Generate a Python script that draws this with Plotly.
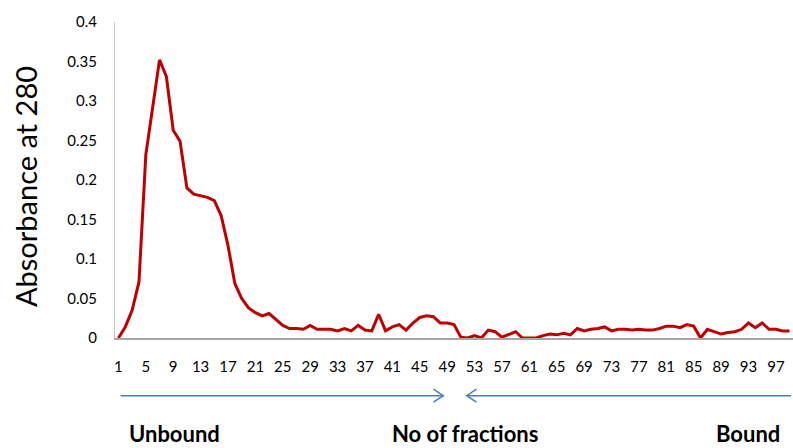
import plotly.graph_objects as go

fractions = list(range(1, 100))
absorbance = [
    0.000, 0.014, 0.035, 0.071, 0.232, 0.295, 0.352, 0.331, 0.263, 0.249,
    0.190, 0.182, 0.180, 0.178, 0.174, 0.155, 0.117, 0.069, 0.050, 0.038,
    0.032, 0.028, 0.031, 0.023, 0.016, 0.012, 0.012, 0.011, 0.016, 0.011,
    0.011, 0.011, 0.009, 0.012, 0.009, 0.016, 0.010, 0.009, 0.030, 0.009,
    0.014, 0.017, 0.010, 0.019, 0.026, 0.028, 0.027, 0.019, 0.019, 0.017,
    0.001, 0.000, 0.003, 0.000, 0.010, 0.008, 0.001, 0.005, 0.008, 0.000,
    0.000, 0.000, 0.003, 0.005, 0.004, 0.006, 0.004, 0.012, 0.009, 0.011,
    0.012, 0.014, 0.009, 0.011, 0.011, 0.010, 0.011, 0.010, 0.010, 0.012,
    0.015, 0.015, 0.013, 0.017, 0.015, 0.000, 0.011, 0.008, 0.005, 0.007,
    0.008, 0.011, 0.019, 0.013, 0.019, 0.011, 0.011, 0.009, 0.009,
]
x_tick_vals = list(range(1, 100, 4))
y_tick_vals = [0, 0.05, 0.1, 0.15, 0.2, 0.25, 0.3, 0.35, 0.4]
y_tick_text = ["0", "0.05", "0.1", "0.15", "0.2", "0.25", "0.3", "0.35", "0.4"]

W, H = 793, 448
L, R, T, B = 115, 0, 22, 110
PW, PH = W - L - R, H - T - B


def px(xp):
    return (xp - L) / PW


def py(yp):
    return (H - B - yp) / PH


FONT = "Lato, 'Open Sans', sans-serif"

fig = go.Figure()
fig.add_trace(go.Scatter(
    x=fractions, y=absorbance, mode="lines",
    line=dict(color="#c00000", width=3), hoverinfo="x+y",
))

arrow_col = "#4a7ebb"
ya = 395.7
shapes = [
    dict(type="line", xref="paper", yref="paper", x0=px(120.7), x1=px(443.3),
         y0=py(ya), y1=py(ya), line=dict(color=arrow_col, width=1.5)),
    dict(type="path", xref="paper", yref="paper",
         path=f"M {px(433.5)},{py(ya-6.5)} L {px(443.3)},{py(ya)} L {px(433.5)},{py(ya+6.5)}",
         line=dict(color=arrow_col, width=1.5)),
    dict(type="line", xref="paper", yref="paper", x0=px(466.7), x1=px(791),
         y0=py(ya), y1=py(ya), line=dict(color=arrow_col, width=1.5)),
    dict(type="path", xref="paper", yref="paper",
         path=f"M {px(476.5)},{py(ya-6.5)} L {px(466.7)},{py(ya)} L {px(476.5)},{py(ya+6.5)}",
         line=dict(color=arrow_col, width=1.5)),
]

label_font = dict(family=FONT, size=22, color="#000000")
annotations = [
    dict(text="<b>Unbound</b>", xref="paper", yref="paper", x=px(174), y=py(433),
         xanchor="center", yanchor="middle", showarrow=False, font=label_font, borderpad=0),
    dict(text="<b>No of fractions</b>", xref="paper", yref="paper", x=px(465), y=py(433),
         xanchor="center", yanchor="middle", showarrow=False, font=label_font, borderpad=0),
    dict(text="<b>Bound</b>", xref="paper", yref="paper", x=px(748), y=py(433),
         xanchor="center", yanchor="middle", showarrow=False, font=label_font, borderpad=0),
    dict(text="Absorbance at 280", xref="paper", yref="paper", x=px(25), y=py(186),
         xanchor="center", yanchor="middle", textangle=-90, showarrow=False,
         font=dict(family=FONT, size=29, color="#000000")),
]

fig.update_layout(
    width=W, height=H,
    margin=dict(l=L, r=R, t=T, b=B, pad=0),
    paper_bgcolor="white", plot_bgcolor="white",
    showlegend=False,
    font=dict(family=FONT, color="#000000"),
    shapes=shapes, annotations=annotations,
    xaxis=dict(
        range=[0.5, 99.5], tickmode="array", tickvals=x_tick_vals,
        ticktext=[str(v) for v in x_tick_vals],
        showgrid=False, zeroline=False, showline=True, linecolor="#a6a6a6", linewidth=1.5,
        ticks="", tickfont=dict(family=FONT, size=15, color="#000000"),
        ticklabelstandoff=14, fixedrange=True,
    ),
    yaxis=dict(
        range=[0, 0.4], tickmode="array", tickvals=y_tick_vals, ticktext=y_tick_text,
        showgrid=False, zeroline=False, showline=True, linecolor="#c8c8c8", linewidth=1,
        ticks="", tickfont=dict(family=FONT, size=15, color="#000000"),
        ticklabelstandoff=14,
        fixedrange=True,
    ),
)

fig.write_html(
    "out.html",
    config={"displayModeBar": False},
    post_script="document.body.style.margin='0';document.body.style.overflow='hidden';",
)
